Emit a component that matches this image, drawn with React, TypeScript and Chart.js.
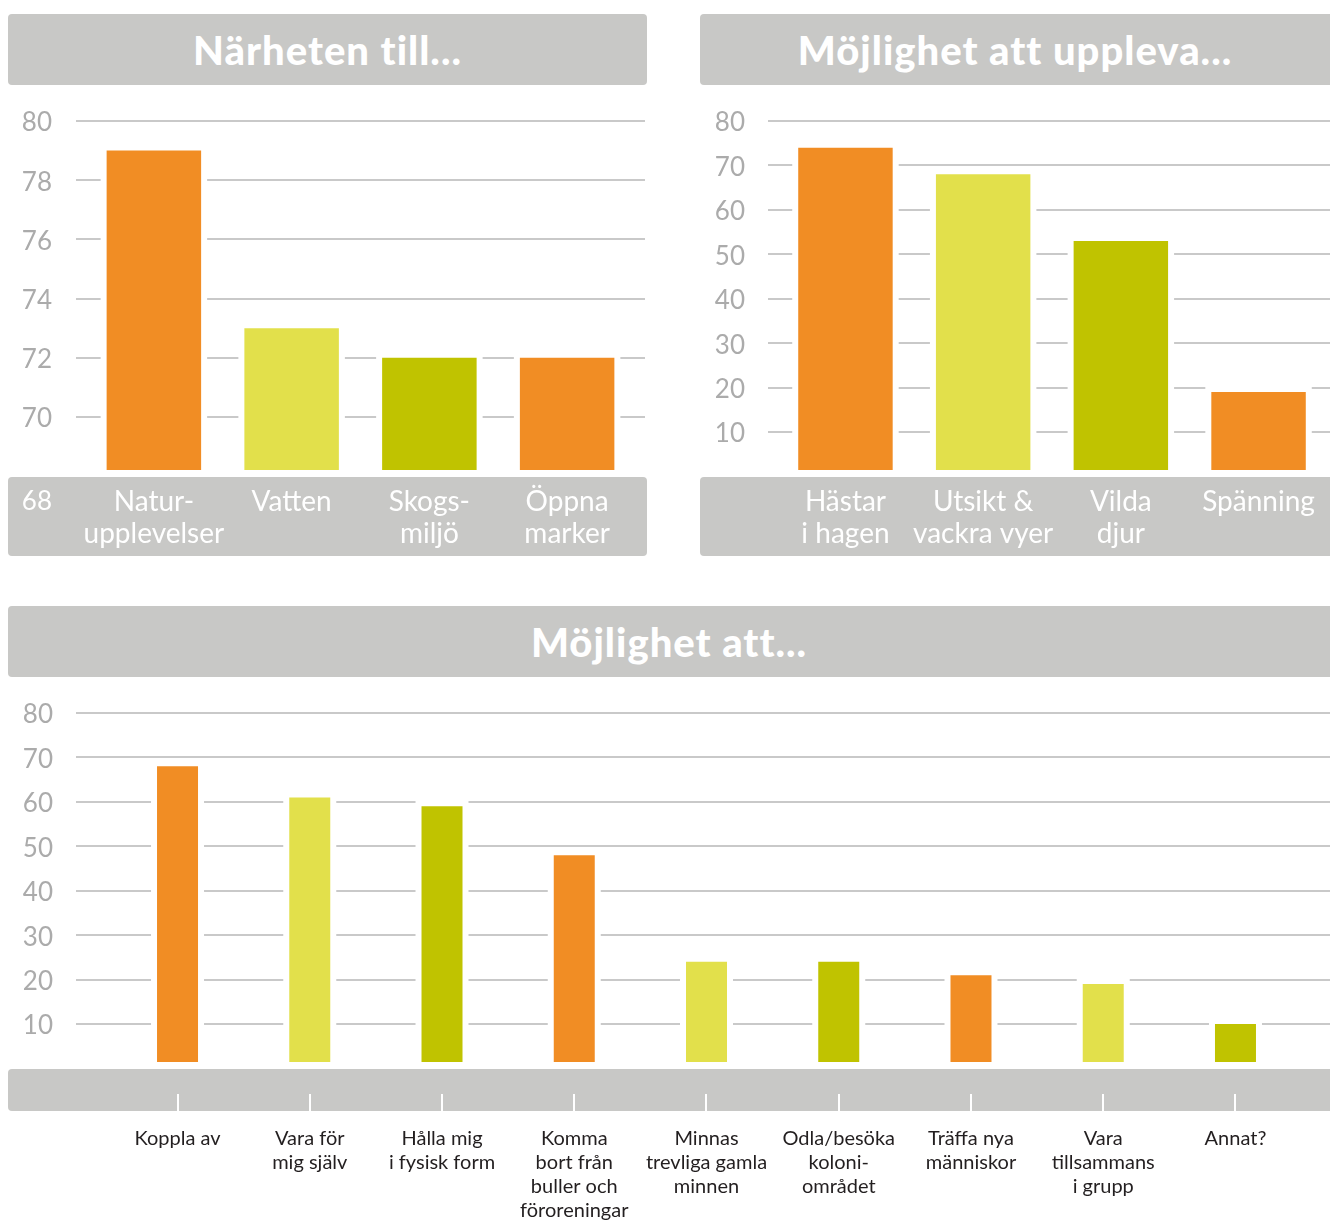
import React, { useEffect, useRef } from "react";
import { Chart, registerables } from "chart.js";

Chart.register(...registerables);

const FONT = "Lato, 'Noto Sans', sans-serif";
const ORANGE = "#f18d24";
const YELLOW = "#e2e04b";
const OLIVE = "#c0c300";
const PANEL_GRAY = "#c8c8c6";
const GRID_GRAY = "#c9c9c9";
const TICK_GRAY = "#ababab";

// ---- Panel 1: Närheten till...
const proximityTitle = "Närheten till...";
const proximityLabels = [["Natur-", "upplevelser"], ["Vatten"], ["Skogs-", "miljö"], ["Öppna", "marker"]];
const proximityValues = [79, 73, 72, 72];
const proximityColors = [ORANGE, YELLOW, OLIVE, ORANGE];
const proximityTicks = [70, 72, 74, 76, 78, 80];
const proximityBaseLabel = "68";

// ---- Panel 2: Möjlighet att uppleva...
const experienceTitle = "Möjlighet att uppleva...";
const experienceLabels = [["Hästar", "i hagen"], ["Utsikt &", "vackra vyer"], ["Vilda", "djur"], ["Spänning"]];
const experienceValues = [74, 68, 53, 19];
const experienceColors = [ORANGE, YELLOW, OLIVE, ORANGE];
const experienceTicks = [10, 20, 30, 40, 50, 60, 70, 80];

// ---- Panel 3: Möjlighet att...
const activityTitle = "Möjlighet att...";
const activityLabels = [
  ["Koppla av"],
  ["Vara för", "mig själv"],
  ["Hålla mig", "i fysisk form"],
  ["Komma", "bort från", "buller och", "föroreningar"],
  ["Minnas", "trevliga gamla", "minnen"],
  ["Odla/besöka", "koloni-", "området"],
  ["Träffa nya", "människor"],
  ["Vara", "tillsammans", "i grupp"],
  ["Annat?"],
];
const activityValues = [68, 61, 59, 48, 24, 24, 21, 19, 10];
const activityColors = [ORANGE, YELLOW, OLIVE, ORANGE, YELLOW, OLIVE, ORANGE, YELLOW, OLIVE];
const activityTicks = [10, 20, 30, 40, 50, 60, 70, 80];

type PanelCfg = {
  labels: string[][];
  values: number[];
  colors: string[];
  yMin: number;
  yMax: number;
  yTicks: number[];
  left: number;
  top: number;
  width: number;
  height: number;
  areaLeft: number;
  areaTop: number;
  areaRight: number;
  areaBottom: number;
  gridLeft: number;
  gridRight: number;
  band: { x: number; y: number; w: number; h: number; r: number[] };
  labelColor: string;
  labelSize: number;
  labelLine: number;
  labelOffset: number;
  barPct: number;
  yLabelRight: number;
  tickMarks?: { y0: number; y1: number };
  baseLabel?: string;
};

function buildChart(canvas: HTMLCanvasElement, c: PanelCfg) {
  const decor = {
    id: "decor",
    beforeDraw(chart: any) {
      const ctx = chart.ctx;
      const ys = chart.scales.y;
      const xs = chart.scales.x;
      ctx.save();
      // gray band behind category labels
      ctx.fillStyle = PANEL_GRAY;
      ctx.beginPath();
      ctx.roundRect(c.band.x, c.band.y, c.band.w, c.band.h, c.band.r);
      ctx.fill();
      // grid lines
      ctx.strokeStyle = GRID_GRAY;
      ctx.lineWidth = 2;
      c.yTicks.forEach((v) => {
        const py = Math.round(ys.getPixelForValue(v));
        ctx.beginPath();
        ctx.moveTo(c.gridLeft, py);
        ctx.lineTo(c.gridRight, py);
        ctx.stroke();
      });
      // white tick marks in band
      if (c.tickMarks) {
        ctx.strokeStyle = "#ffffff";
        ctx.lineWidth = 2;
        c.labels.forEach((_, i) => {
          const px = Math.round(xs.getPixelForValue(i));
          ctx.beginPath();
          ctx.moveTo(px, c.tickMarks!.y0);
          ctx.lineTo(px, c.tickMarks!.y1);
          ctx.stroke();
        });
      }
      // base value label inside the band
      if (c.baseLabel) {
        ctx.fillStyle = "#ffffff";
        ctx.font = `26px ${FONT}`;
        ctx.textAlign = "right";
        ctx.textBaseline = "middle";
        ctx.fillText(c.baseLabel, c.yLabelRight, c.areaBottom + c.labelOffset + c.labelLine / 2);
      }
      ctx.restore();
    },
    beforeDatasetsDraw(chart: any) {
      const ctx = chart.ctx;
      const meta = chart.getDatasetMeta(0);
      const bottom = chart.chartArea.bottom;
      ctx.save();
      ctx.fillStyle = "#ffffff";
      meta.data.forEach((el: any) => {
        const p = el.getProps(["x", "y", "base", "width"], true);
        const b = Math.min(p.base, bottom);
        ctx.fillRect(p.x - p.width / 2 - 6, p.y - 6, p.width + 12, b - p.y + 6);
      });
      ctx.restore();
    },
  };

  return new Chart(canvas, {
    type: "bar",
    data: {
      labels: c.labels as any,
      datasets: [
        {
          data: c.values,
          backgroundColor: c.colors,
          borderWidth: 0,
          categoryPercentage: 1,
          barPercentage: c.barPct,
        },
      ],
    },
    options: {
      animation: false,
      responsive: false,
      maintainAspectRatio: false,
      layout: {
        padding: { left: 0, top: c.areaTop, right: c.width - c.areaRight, bottom: 0 },
      },
      plugins: { legend: { display: false }, tooltip: { enabled: false }, title: { display: false } },
      scales: {
        x: {
          type: "category",
          offset: true,
          border: { display: false },
          grid: {
            display: true,
            drawOnChartArea: false,
            drawTicks: true,
            tickLength: c.labelOffset - 2,
            color: "rgba(0,0,0,0)",
          },
          ticks: {
            padding: 2,
            autoSkip: false,
            maxRotation: 0,
            minRotation: 0,
            color: c.labelColor,
            font: { family: FONT, size: c.labelSize, lineHeight: c.labelLine / c.labelSize },
          },
          afterFit: (s: any) => {
            s.height = c.height - c.areaBottom;
          },
        },
        y: {
          type: "linear",
          min: c.yMin,
          max: c.yMax,
          border: { display: false },
          grid: {
            display: true,
            drawOnChartArea: false,
            drawTicks: true,
            tickLength: c.areaLeft - c.yLabelRight,
            color: "rgba(0,0,0,0)",
          },
          ticks: {
            padding: 0,
            labelOffset: 2,
            color: TICK_GRAY,
            font: { family: FONT, size: 26 },
            callback: (v: any) => String(v),
          },
          afterBuildTicks: (s: any) => {
            s.ticks = c.yTicks.map((v) => ({ value: v }));
          },
          afterFit: (s: any) => {
            s.width = c.areaLeft;
          },
        },
      },
    },
    plugins: [decor],
  } as any);
}

function ChartPanel({ cfg }: { cfg: PanelCfg }) {
  const ref = useRef<HTMLCanvasElement | null>(null);
  useEffect(() => {
    if (!ref.current) return;
    const chart = buildChart(ref.current, cfg);
    return () => chart.destroy();
  }, [cfg]);
  return (
    <canvas
      ref={ref}
      width={cfg.width}
      height={cfg.height}
      style={{ position: "absolute", left: cfg.left, top: cfg.top, width: cfg.width, height: cfg.height }}
    />
  );
}

function Header({ text, left, top, width, radius }: { text: string; left: number; top: number; width: number; radius: string }) {
  return (
    <div
      style={{
        position: "absolute",
        left,
        top,
        width,
        height: 71,
        background: PANEL_GRAY,
        borderRadius: radius,
        display: "flex",
        alignItems: "center",
        justifyContent: "center",
        color: "#ffffff",
        fontFamily: FONT,
        fontWeight: 900,
        fontSize: 40,
        letterSpacing: 1,
        whiteSpace: "nowrap",
      }}
    >
      {text}
    </div>
  );
}

const panel1: PanelCfg = {
  labels: proximityLabels,
  values: proximityValues,
  colors: proximityColors,
  yMin: 68.21,
  yMax: 80,
  yTicks: proximityTicks,
  left: 8,
  top: 100,
  width: 640,
  height: 460,
  areaLeft: 77,
  areaTop: 21,
  areaRight: 628,
  areaBottom: 370,
  gridLeft: 68,
  gridRight: 637,
  band: { x: 0, y: 377, w: 639, h: 79, r: [4, 4, 4, 4] },
  labelColor: "#ffffff",
  labelSize: 28,
  labelLine: 32,
  labelOffset: 16,
  barPct: 0.686,
  yLabelRight: 44,
  baseLabel: proximityBaseLabel,
};

const panel2: PanelCfg = {
  labels: experienceLabels,
  values: experienceValues,
  colors: experienceColors,
  yMin: 1.45,
  yMax: 80,
  yTicks: experienceTicks,
  left: 700,
  top: 100,
  width: 630,
  height: 460,
  areaLeft: 76.6,
  areaTop: 21,
  areaRight: 627.4,
  areaBottom: 370,
  gridLeft: 68,
  gridRight: 630,
  band: { x: 0, y: 377, w: 640, h: 79, r: [4, 0, 0, 4] },
  labelColor: "#ffffff",
  labelSize: 28,
  labelLine: 32,
  labelOffset: 16,
  barPct: 0.686,
  yLabelRight: 45,
};

const panel3: PanelCfg = {
  labels: activityLabels,
  values: activityValues,
  colors: activityColors,
  yMin: 1.45,
  yMax: 80,
  yTicks: activityTicks,
  left: 8,
  top: 690,
  width: 1322,
  height: 532,
  areaLeft: 103.4,
  areaTop: 23,
  areaRight: 1293.6,
  areaBottom: 372,
  gridLeft: 68,
  gridRight: 1322,
  band: { x: 0, y: 379, w: 1330, h: 42, r: [4, 0, 0, 4] },
  labelColor: "#231f20",
  labelSize: 20,
  labelLine: 24,
  labelOffset: 65,
  barPct: 0.31,
  yLabelRight: 45,
  tickMarks: { y0: 404, y1: 421 },
};

export default function App() {
  return (
    <div
      style={{
        position: "absolute",
        left: 0,
        top: 0,
        width: 1330,
        height: 1222,
        overflow: "hidden",
        background: "#ffffff",
      }}
    >
      <Header text={proximityTitle} left={8} top={14} width={639} radius="4px" />
      <Header text={experienceTitle} left={700} top={14} width={630} radius="4px 0 0 4px" />
      <Header text={activityTitle} left={8} top={606} width={1322} radius="4px 0 0 4px" />
      <ChartPanel cfg={panel1} />
      <ChartPanel cfg={panel2} />
      <ChartPanel cfg={panel3} />
    </div>
  );
}
